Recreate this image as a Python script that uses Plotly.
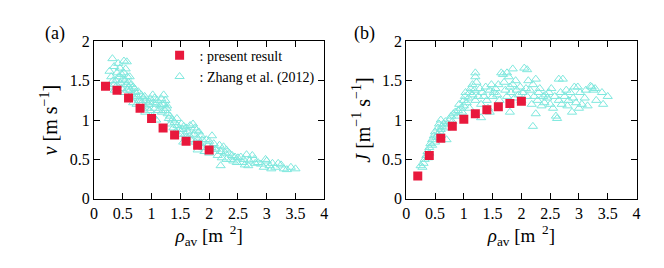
import plotly.graph_objects as go

# present result
rho_present = [0.2, 0.4, 0.6, 0.8, 1.0, 1.2, 1.4, 1.6, 1.8, 2.0]
v_present = [1.43, 1.38, 1.28, 1.15, 1.02, 0.90, 0.81, 0.73, 0.68, 0.62]
J_present = [0.29, 0.55, 0.77, 0.92, 1.01, 1.08, 1.13, 1.17, 1.21, 1.24]

# Zhang et al. (2012) - panel (a)
zhang_rho_a = [
    0.32, 0.27, 0.30, 0.33, 0.35, 0.28, 0.35,
    0.42, 0.45, 0.40, 0.43, 0.38, 0.46, 0.40, 0.48, 0.36, 0.48, 0.50,
    0.52, 0.57, 0.55, 0.52, 0.58, 0.54, 0.56, 0.60, 0.53, 0.58, 0.60,
    0.62, 0.65, 0.68, 0.70, 0.63, 0.72, 0.66, 0.75, 0.70, 0.78, 0.68, 0.77, 0.74,
    0.82, 0.88, 0.85, 0.90, 0.83, 0.95, 0.87, 0.92, 0.97, 0.89, 0.98, 0.96,
    1.02, 1.05, 1.10, 1.03, 1.08, 1.15, 1.06, 1.12, 1.18, 1.02, 1.08, 1.17, 1.19,
    1.21, 1.24, 1.22, 1.27, 1.26, 1.23, 1.28, 1.30,
    1.32, 1.36, 1.40, 1.33, 1.45, 1.38, 1.48, 1.42, 1.44, 1.50,
    1.52, 1.56, 1.60, 1.54, 1.63, 1.58, 1.66, 1.60, 1.68, 1.67, 1.55,
    1.72, 1.75, 1.78, 1.82, 1.74, 1.86, 1.80, 1.88, 1.76, 1.84, 1.90, 1.80,
    2.05, 1.95, 2.00, 2.08, 1.98, 2.04, 1.92, 2.00, 2.10,
    2.18, 2.25, 2.12, 2.20, 2.28, 2.15, 2.22, 2.20, 2.30, 2.30,
    2.35, 2.40, 2.45, 2.38, 2.42, 2.50, 2.48,
    2.65, 2.75, 2.55, 2.60, 2.70, 2.58, 2.80, 2.62, 2.68, 2.78,
    2.98, 3.00, 2.85, 2.90, 3.05, 2.95, 3.08, 3.10,
    3.20, 3.25, 3.15, 3.30, 3.42, 3.50, 3.35,
]
zhang_v_a = [
    1.78, 1.62, 1.55, 1.50, 1.45, 1.42, 1.68,
    1.72, 1.66, 1.60, 1.55, 1.50, 1.47, 1.44, 1.40, 1.38, 1.58, 1.52,
    1.75, 1.74, 1.65, 1.60, 1.55, 1.50, 1.45, 1.42, 1.35, 1.38, 1.48,
    1.55, 1.45, 1.42, 1.40, 1.38, 1.35, 1.32, 1.30, 1.28, 1.25, 1.22, 1.36, 1.20,
    1.32, 1.30, 1.28, 1.25, 1.22, 1.20, 1.18, 1.15, 1.12, 1.10, 1.27, 1.23,
    1.32, 1.28, 1.25, 1.22, 1.20, 1.18, 1.15, 1.12, 1.10, 1.05, 1.00, 1.27, 1.20,
    1.32, 1.25, 1.20, 1.18, 1.15, 1.12, 1.08, 1.02,
    1.05, 1.00, 0.97, 0.95, 0.93, 0.90, 0.88, 0.85, 1.02, 0.82,
    0.95, 0.92, 0.90, 0.88, 0.85, 0.82, 0.80, 0.78, 0.75, 0.93, 0.72,
    0.95, 0.90, 0.87, 0.85, 0.82, 0.80, 0.77, 0.75, 0.72, 0.70, 0.65, 0.62,
    0.80, 0.75, 0.73, 0.70, 0.68, 0.65, 0.60, 0.58, 0.63,
    0.68, 0.66, 0.63, 0.60, 0.58, 0.55, 0.52, 0.42, 0.50, 0.62,
    0.58, 0.55, 0.53, 0.50, 0.48, 0.52, 0.46,
    0.56, 0.55, 0.53, 0.50, 0.48, 0.46, 0.45, 0.43, 0.42, 0.50,
    0.50, 0.48, 0.46, 0.44, 0.42, 0.40, 0.38, 0.45,
    0.45, 0.43, 0.40, 0.38, 0.40, 0.38, 0.37,
]

# Zhang et al. (2012) - panel (b)
zhang_rho_b = [
    0.25, 0.28, 0.30, 0.32, 0.35, 0.37, 0.38, 0.40, 0.40,
    0.42, 0.45, 0.45, 0.48, 0.50, 0.50, 0.52, 0.55, 0.55, 0.57, 0.58, 0.60, 0.60,
    0.62, 0.65, 0.68, 0.70, 0.70, 0.72, 0.75, 0.78, 0.80,
    0.82, 0.85, 0.88, 0.90, 0.92, 0.95, 0.97, 1.00, 1.00,
    1.02, 1.03, 1.05, 1.08, 1.10, 1.12, 1.15, 1.15, 1.18, 1.20, 1.20, 1.20, 1.10,
    1.22, 1.25, 1.28, 1.30, 1.30, 1.32, 1.35, 1.38, 1.40, 1.42, 1.45, 1.48, 1.50, 1.45,
    1.52, 1.55, 1.58, 1.60, 1.62, 1.65, 1.68, 1.70, 1.72, 1.75, 1.75, 1.78, 1.80, 1.80,
    1.82, 1.85, 1.85, 1.88, 1.90, 1.92, 1.95, 1.98, 2.00, 2.02, 2.05, 2.08, 2.10, 2.10,
    2.12, 2.15, 2.18, 2.20, 2.20, 2.22, 2.25, 2.25, 2.28, 2.30, 2.32, 2.35, 2.38, 2.40,
    2.42, 2.45, 2.48, 2.50, 2.52, 2.55, 2.58, 2.60, 2.62, 2.65, 2.65, 2.68, 2.70, 2.72,
    2.75, 2.78, 2.80, 2.82, 2.85, 2.88, 2.90, 2.92, 2.95, 2.98, 3.00,
    3.02, 3.05, 3.10, 3.12, 3.15, 3.20, 3.22, 3.25, 3.28, 3.30, 3.40, 3.42, 3.50,
]
zhang_J_b = [
    0.42, 0.40, 0.45, 0.50, 0.55, 0.60, 0.52, 0.65, 0.58,
    0.70, 0.68, 0.75, 0.80, 0.72, 0.85, 0.78, 0.90, 0.82, 0.95, 0.85, 1.00, 0.88,
    0.92, 0.95, 0.98, 0.90, 0.75, 0.95, 1.00, 1.05, 0.98,
    1.08, 1.10, 1.05, 1.12, 1.20, 1.15, 1.10, 1.25, 1.18,
    1.30, 1.35, 1.22, 1.28, 1.35, 1.40, 1.32, 1.45, 1.38, 1.60, 1.55, 1.25, 1.15,
    1.48, 1.30, 1.40, 1.20, 1.03, 1.35, 1.30, 1.42, 1.25, 1.15, 1.38, 1.45, 1.30, 1.10,
    1.35, 1.40, 1.32, 1.45, 1.25, 1.60, 1.58, 1.48, 1.38, 1.30, 1.60, 1.55, 1.10, 1.42,
    1.35, 1.65, 1.45, 1.28, 1.50, 1.38, 1.32, 1.42, 1.25, 1.35, 1.66, 1.40, 1.64, 1.30,
    1.50, 1.38, 1.20, 0.92, 1.45, 1.30, 1.52, 1.08, 1.25, 1.35, 1.40, 1.18, 1.30, 1.22,
    1.32, 1.28, 1.35, 1.20, 1.40, 1.15, 1.30, 1.05, 1.02, 1.25, 1.52, 1.35, 1.20, 1.52,
    1.30, 1.38, 1.18, 1.25, 1.35, 1.10, 1.28, 1.42, 1.22, 1.42, 1.15,
    1.35, 1.20, 1.28, 1.38, 1.18, 1.43, 1.42, 1.38, 1.40, 1.25, 1.35, 1.20, 1.30,
]

x_ticks = [0, 0.5, 1, 1.5, 2, 2.5, 3, 3.5, 4]
y_ticks = [0, 0.5, 1, 1.5, 2]

RED = "#e8193c"
CYAN = "#7fe8de"
FONT = "Liberation Serif, Times New Roman, Times, serif"

fig = go.Figure()

tri = dict(symbol="triangle-up-open", size=8, color=CYAN, line=dict(width=1, color=CYAN))
sq = dict(symbol="square", size=9, color=RED)

fig.add_trace(go.Scatter(x=zhang_rho_a, y=zhang_v_a, mode="markers", name=": Zhang et al. (2012)",
                         marker=tri, xaxis="x", yaxis="y", showlegend=False))
fig.add_trace(go.Scatter(x=rho_present, y=v_present, mode="markers", name=": present result",
                         marker=sq, xaxis="x", yaxis="y", legendrank=1))
fig.add_trace(go.Scatter(x=[None], y=[None], mode="markers", name=": Zhang et al. (2012)",
                         marker=tri, xaxis="x", yaxis="y", legendrank=2))
fig.add_trace(go.Scatter(x=zhang_rho_b, y=zhang_J_b, mode="markers", name=": Zhang et al. (2012)",
                         marker=tri, xaxis="x2", yaxis="y2", showlegend=False))
fig.add_trace(go.Scatter(x=rho_present, y=J_present, mode="markers", name=": present result",
                         marker=sq, xaxis="x2", yaxis="y2", showlegend=False))

axis_common = dict(
    showline=True, linecolor="black", linewidth=1, mirror="ticks",
    ticks="inside", ticklen=6, tickcolor="black", tickwidth=1,
    showgrid=False, zeroline=False,
    tickfont=dict(family=FONT, size=16, color="black"),
)

xtitle = "<i>ρ</i><sub>av</sub> [m<sup>\u00a0\u00a02</sup>]"

fig.update_layout(
    width=664, height=268,
    margin=dict(l=0, r=0, t=0, b=0),
    paper_bgcolor="white", plot_bgcolor="white",
    font=dict(family=FONT, color="black"),
    xaxis=dict(domain=[0.125, 0.476], range=[0, 4], tickvals=x_ticks, anchor="y",
               title=dict(text=xtitle, font=dict(family=FONT, size=19), standoff=2), **axis_common),
    yaxis=dict(domain=[0.272, 0.899], range=[0, 2], tickvals=y_ticks, anchor="x",
               title=dict(text="<i>v</i> [m s<sup>−1</sup>]", font=dict(family=FONT, size=20), standoff=6), **axis_common),
    xaxis2=dict(domain=[0.601, 0.952], range=[0, 4], tickvals=x_ticks, anchor="y2",
                title=dict(text=xtitle, font=dict(family=FONT, size=19), standoff=2), **axis_common),
    yaxis2=dict(domain=[0.272, 0.899], range=[0, 2], tickvals=y_ticks, anchor="x2",
                title=dict(text="<i>J</i> [m<sup>−1</sup> s<sup>−1</sup>]", font=dict(family=FONT, size=20), standoff=6), **axis_common),
    legend=dict(x=0.225, y=0.80, xanchor="left", yanchor="middle",
                bgcolor="rgba(0,0,0,0)", font=dict(family=FONT, size=14, color="black"),
                itemwidth=30, tracegroupgap=0),
    annotations=[
        dict(text="(a)", x=0.048, y=0.88, xref="paper", yref="paper", showarrow=False,
             font=dict(family=FONT, size=18, color="black"), xanchor="left", yanchor="bottom"),
        dict(text="(b)", x=0.518, y=0.88, xref="paper", yref="paper", showarrow=False,
             font=dict(family=FONT, size=18, color="black"), xanchor="left", yanchor="bottom"),
    ],
)

fig.write_html("out.html")
